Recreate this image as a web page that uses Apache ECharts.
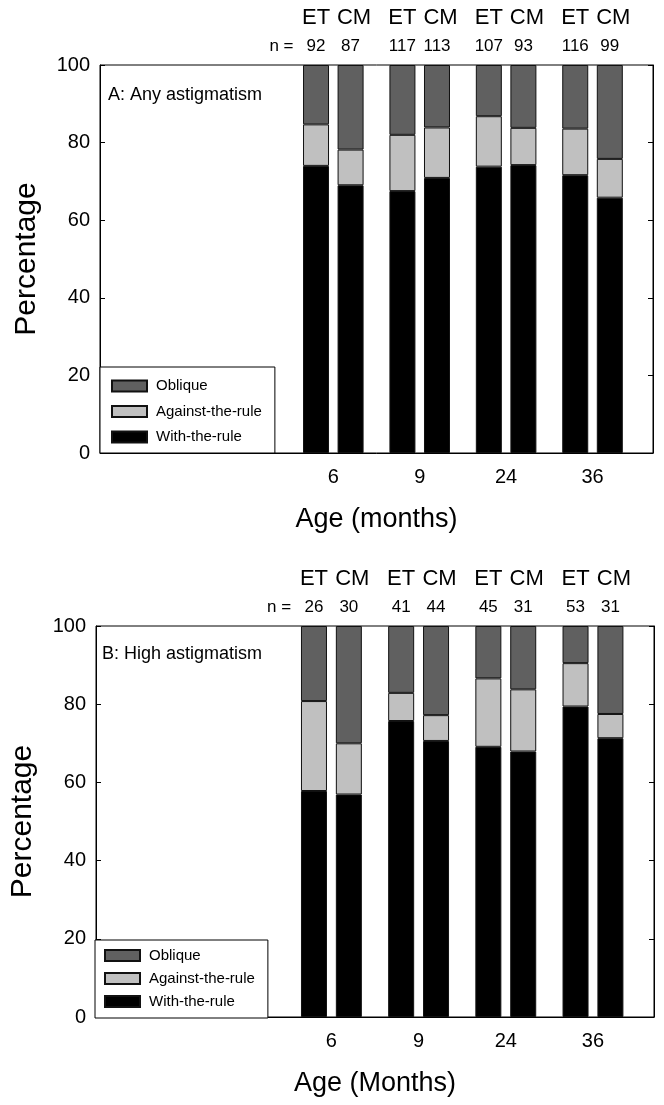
<!DOCTYPE html>
<html>
<head>
<meta charset="utf-8">
<script src="https://cdn.jsdelivr.net/npm/echarts@6/dist/echarts.min.js"></script>
<style>
  html, body { margin: 0; padding: 0; background: #fff; }
  #chart { width: 664px; height: 1105px; }
</style>
</head>
<body>
<div id="chart"></div>
<script>
// ages on the x axis, two groups per age
var ages = ['6', '9', '24', '36'];
var groups = ['ET', 'CM'];

// A: any astigmatism, order ET6, CM6, ET9, CM9, ET24, CM24, ET36, CM36
var nA = [92, 87, 117, 113, 107, 93, 116, 99];
var withA = [74.0, 69.0, 67.5, 70.9, 73.8, 74.2, 71.6, 65.8];
var againstA = [10.7, 9.2, 14.5, 13.0, 13.0, 9.6, 12.0, 10.0];
var obliqueA = [15.3, 21.8, 18.0, 16.1, 13.2, 16.2, 16.4, 24.2];

// B: high astigmatism
var nB = [26, 30, 41, 44, 45, 31, 53, 31];
var withB = [57.8, 56.9, 75.7, 70.6, 69.1, 67.9, 79.4, 71.3];
var againstB = [23.0, 13.1, 7.2, 6.6, 17.5, 15.9, 11.1, 6.2];
var obliqueB = [19.2, 30.0, 17.1, 22.8, 13.4, 16.2, 9.5, 22.5];

// slot layout on a fine category axis
var SLOTS = 32;
function barSlot(i, g) { return 12 + 5 * i + 2 * g; }
function ageSlot(i) { return 13 + 5 * i; }
var N_SLOT = 10;

function emptySlots() {
    var a = [];
    for (var k = 0; k < SLOTS; k++) a.push('');
    return a;
}
var bottomCats = emptySlots();
ages.forEach(function (a, i) { bottomCats[ageSlot(i)] = a; });

function slotData(vals) {
    var d = [];
    for (var k = 0; k < SLOTS; k++) d.push('-');
    ages.forEach(function (a, i) {
        groups.forEach(function (g, j) { d[barSlot(i, j)] = vals[i * 2 + j]; });
    });
    return d;
}
function groupCats() {
    var c = emptySlots();
    ages.forEach(function (a, i) {
        groups.forEach(function (g, j) { c[barSlot(i, j)] = g; });
    });
    return c;
}
function nCats(ns) {
    var c = emptySlots();
    c[N_SLOT] = 'n =';
    ages.forEach(function (a, i) {
        groups.forEach(function (g, j) { c[barSlot(i, j)] = String(ns[i * 2 + j]); });
    });
    return c;
}
var tickSet = {};
ages.forEach(function (a, i) { tickSet[ageSlot(i)] = true; });

var FONT = 'Liberation Sans, Arial, sans-serif';
var colors = { obl: '#606060', atr: '#c0c0c0', wtr: '#000000' };

function bottomAxis(gi, name) {
    return {
        type: 'category', gridIndex: gi, position: 'bottom',
        data: bottomCats, boundaryGap: true,
        axisLine: { lineStyle: { color: '#000', width: 1 } },
        axisTick: { inside: true, length: 5, alignWithLabel: true,
            interval: function (idx) { return !!tickSet[idx]; },
            lineStyle: { color: '#000' } },
        axisLabel: { interval: 0, color: '#000', fontSize: 20, fontFamily: FONT, margin: 14 },
        name: name, nameLocation: 'middle', nameGap: 53,
        nameTextStyle: { color: '#000', fontSize: 27, fontFamily: FONT }
    };
}
function topAxis(gi, cats, offset, size) {
    return {
        type: 'category', gridIndex: gi, position: 'top', offset: offset,
        data: cats, boundaryGap: true,
        axisLine: { show: false }, axisTick: { show: false },
        axisLabel: { interval: 0, color: '#000', fontSize: size, fontFamily: FONT, margin: 10,
            formatter: function (v) { return v === 'CM' ? '{cm|CM}' : v; },
            rich: { cm: { fontSize: size, fontFamily: FONT, color: '#000', padding: [0, 0, 0, 7] } } }
    };
}
function leftAxis(gi) {
    return {
        type: 'value', gridIndex: gi, position: 'left', min: 0, max: 100, interval: 20,
        splitLine: { show: false },
        axisLine: { show: true, lineStyle: { color: '#000' } },
        axisTick: { show: true, inside: true, length: 5, lineStyle: { color: '#000' } },
        axisLabel: { color: '#000', fontSize: 20, fontFamily: FONT, margin: 10 },
        name: 'Percentage', nameLocation: 'middle', nameGap: 58,
        nameTextStyle: { color: '#000', fontSize: 30, fontFamily: FONT }
    };
}
function rightAxis(gi) {
    return {
        type: 'value', gridIndex: gi, position: 'right', min: 0, max: 100, interval: 20,
        splitLine: { show: false },
        axisLine: { show: true, lineStyle: { color: '#000' } },
        axisTick: { show: true, inside: true, length: 5, lineStyle: { color: '#000' } },
        axisLabel: { show: false }
    };
}
function barSeries(name, vals, gi, stack, color, w) {
    return {
        name: name, type: 'bar', stack: stack,
        xAxisIndex: gi * 3, yAxisIndex: gi * 2,
        data: slotData(vals), barWidth: w,
        itemStyle: { color: color, borderColor: '#111', borderWidth: 1 },
        emphasis: { disabled: true }
    };
}
function legendAt(left, top, gap, pad) {
    return {
        orient: 'vertical', left: left, top: top,
        data: ['Oblique', 'Against-the-rule', 'With-the-rule'],
        icon: 'rect', itemWidth: 35, itemHeight: 11, itemGap: gap,
        padding: pad,
        backgroundColor: '#fff', borderColor: '#000', borderWidth: 1, borderRadius: 0,
        textStyle: { color: '#000', fontSize: 15, fontFamily: FONT, padding: [0, 0, 0, 4] }
    };
}

var chart = echarts.init(document.getElementById('chart'));
chart.setOption({
    animation: false,
    backgroundColor: '#fff',
    title: [
        { text: 'A: Any astigmatism', left: 108, top: 86, padding: 0,
          textStyle: { fontSize: 18, fontWeight: 'normal', color: '#000', fontFamily: FONT } },
        { text: 'B: High astigmatism', left: 102, top: 645, padding: 0,
          textStyle: { fontSize: 18, fontWeight: 'normal', color: '#000', fontFamily: FONT } }
    ],
    legend: [
        legendAt(100, 367, 10.5, [11.5, 13, 8.5, 11]),
        legendAt(95, 940, 8, [8, 13, 9, 9])
    ],
    grid: [
        { left: 100, top: 65, width: 553, height: 388, show: true, borderColor: '#000', borderWidth: 1 },
        { left: 96, top: 626, width: 558, height: 391, show: true, borderColor: '#000', borderWidth: 1 }
    ],
    xAxis: [
        bottomAxis(0, 'Age (months)'),
        topAxis(0, nCats(nA), 0, 17),
        topAxis(0, groupCats(), 26, 22),
        bottomAxis(1, 'Age (Months)'),
        topAxis(1, nCats(nB), 0, 17),
        topAxis(1, groupCats(), 26, 22)
    ],
    yAxis: [leftAxis(0), rightAxis(0), leftAxis(1), rightAxis(1)],
    series: [
        barSeries('With-the-rule', withA, 0, 'A', colors.wtr, 26),
        barSeries('Against-the-rule', againstA, 0, 'A', colors.atr, 26),
        barSeries('Oblique', obliqueA, 0, 'A', colors.obl, 26),
        barSeries('With-the-rule', withB, 1, 'B', colors.wtr, 26),
        barSeries('Against-the-rule', againstB, 1, 'B', colors.atr, 26),
        barSeries('Oblique', obliqueB, 1, 'B', colors.obl, 26)
    ]
});
</script>
</body>
</html>
